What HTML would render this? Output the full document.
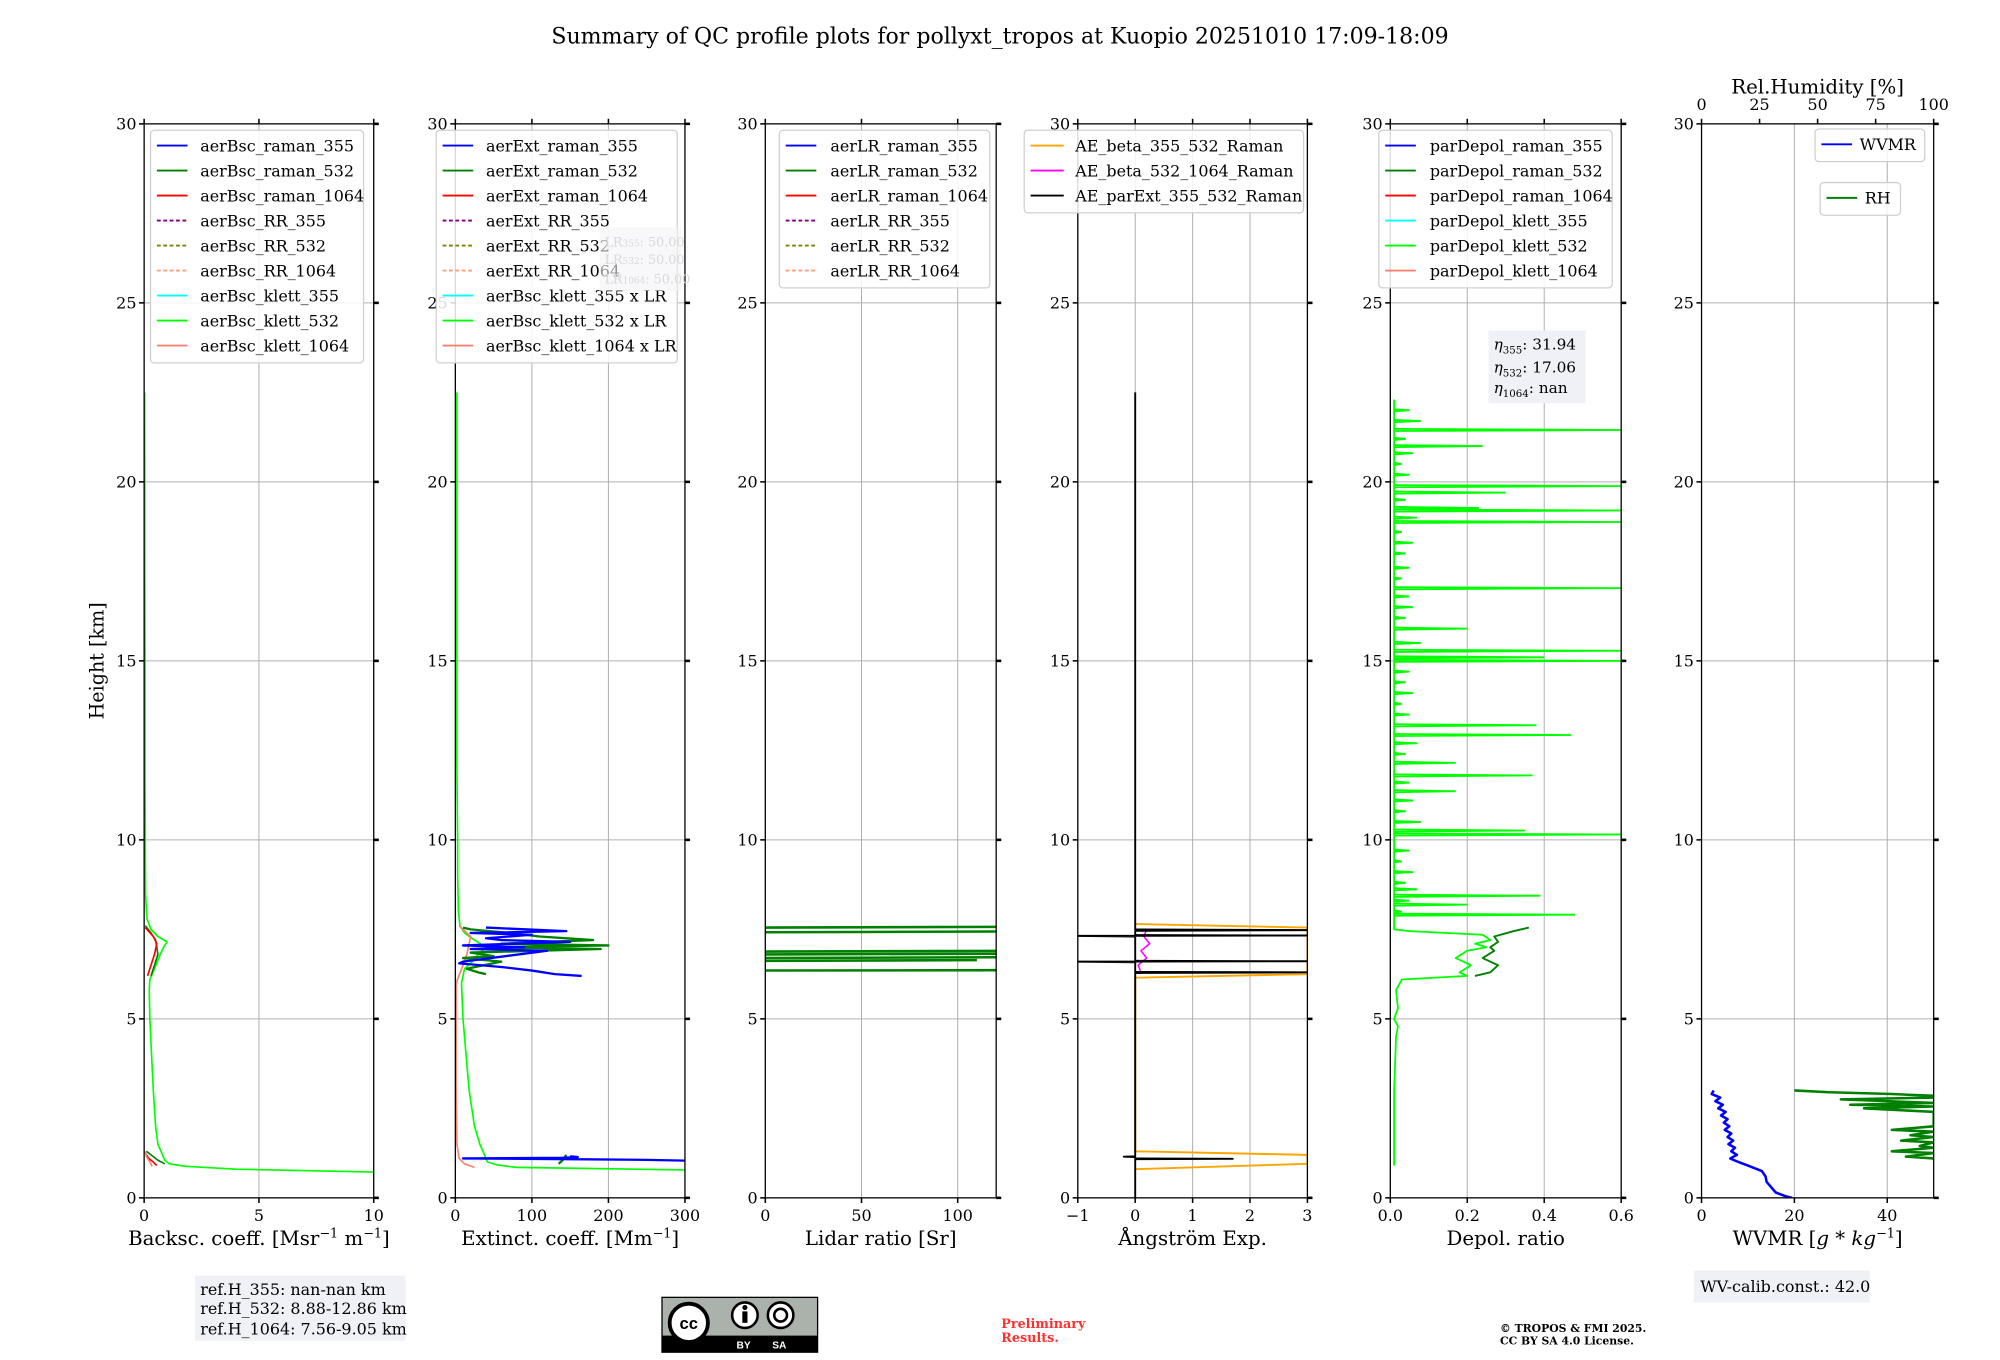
<!DOCTYPE html>
<html><head><meta charset="utf-8"><style>
html,body{margin:0;padding:0;background:#fff;}
svg{display:block;font-family:"DejaVu Serif","Liberation Serif",serif;}
</style></head><body>
<svg id="fig" width="2000" height="1360" viewBox="0 0 1568 1066" xmlns="http://www.w3.org/2000/svg">
<rect width="1568" height="1066" fill="#fff"/>
<text x="784" y="34" font-size="17.3" text-anchor="middle">Summary of QC profile plots for pollyxt_tropos at Kuopio 20251010 17:09-18:09</text>
<text transform="translate(81,518) rotate(-90)" font-size="15" text-anchor="middle">Height [km]</text>
<g id="panels"></g>
<g>
<rect x="153" y="1000" width="165" height="51" fill="#f0f1f6"/>
<text x="157" y="1015" font-size="12.5">ref.H_355: nan-nan km</text>
<text x="157" y="1030" font-size="12.5">ref.H_532: 8.88-12.86 km</text>
<text x="157" y="1046" font-size="12.5">ref.H_1064: 7.56-9.05 km</text>
</g>
<g>
<rect x="1328" y="996" width="138" height="25" fill="#f0f1f6"/>
<text x="1333" y="1013" font-size="12.5">WV-calib.const.: 42.0</text>
</g>
<g>
<rect x="1167" y="259" width="76" height="57" fill="#f0f1f6"/>
<text x="1171" y="274" font-size="12"><tspan font-style="italic">η</tspan><tspan font-size="8" dy="3">355</tspan><tspan dy="-3">: 31.94</tspan></text>
<text x="1171" y="292" font-size="12"><tspan font-style="italic">η</tspan><tspan font-size="8" dy="3">532</tspan><tspan dy="-3">: 17.06</tspan></text>
<text x="1171" y="308" font-size="12"><tspan font-style="italic">η</tspan><tspan font-size="8" dy="3">1064</tspan><tspan dy="-3">: nan</tspan></text>
</g>
<g fill="#d8d8d8">
<rect x="470" y="178" width="64" height="50" fill="#f4f4f6" opacity="0.6"/>
<text x="474" y="193" font-size="10">LR<tspan font-size="7">355</tspan>: 50.00</text>
<text x="474" y="207" font-size="10">LR<tspan font-size="7">532</tspan>: 50.00</text>
<text x="474" y="222" font-size="10">LR<tspan font-size="7">1064</tspan>: 50.00</text>
</g>
<g>
<rect x="519" y="1017" width="122" height="43" fill="#aab2ab" stroke="#000" stroke-width="1"/>
<rect x="519" y="1047" width="122" height="13" fill="#000"/>
<circle cx="540" cy="1037" r="15" fill="#fff" stroke="#000" stroke-width="3"/>
<text x="540" y="1042" font-size="13" font-weight="bold" text-anchor="middle" font-family="Liberation Sans,sans-serif">cc</text>
<circle cx="584" cy="1031" r="10" fill="#fff" stroke="#000" stroke-width="2"/>
<circle cx="584" cy="1025" r="2" fill="#000"/><rect x="582" y="1028" width="4" height="9" fill="#000"/>
<circle cx="612" cy="1031" r="10" fill="#fff" stroke="#000" stroke-width="2"/>
<circle cx="612" cy="1031" r="5" fill="none" stroke="#000" stroke-width="2"/>
<text x="583" y="1057" font-size="8" fill="#fff" text-anchor="middle" font-family="Liberation Sans,sans-serif" font-weight="bold">BY</text>
<text x="611" y="1057" font-size="8" fill="#fff" text-anchor="middle" font-family="Liberation Sans,sans-serif" font-weight="bold">SA</text>
</g>
<text x="785" y="1041" font-size="10" fill="#ff3030" font-weight="bold">Preliminary</text>
<text x="785" y="1052" font-size="10" fill="#ff3030" font-weight="bold">Results.</text>
<text x="1176" y="1044" font-size="8.5" font-weight="bold">© TROPOS &amp; FMI 2025.</text>
<text x="1176" y="1054" font-size="8.5" font-weight="bold">CC BY SA 4.0 License.</text>
</svg>
<script>
// ---------- data ----------
const heightTicks=[0,5,10,15,20,25,30];
// panel 1 backscatter
const bscKlett532H=[0.72,0.8,0.88,0.95,1.05,1.5,2,3,4,5,5.8,6.1,6.4,6.8,7.0,7.15,7.3,7.5,7.8,8.5,10,12,15,18,20,22.5];
const bscKlett532V=[10,4,1.8,1.1,0.9,0.6,0.5,0.4,0.32,0.25,0.22,0.25,0.45,0.7,0.85,1.0,0.6,0.3,0.12,0.06,0.05,0.04,0.04,0.03,0.03,0.02];
const bscRaman532H=[0.95,1.05,1.2,1.3];
const bscRaman532V=[0.9,0.6,0.3,0.1];
const bscRaman532UpH=[6.2,6.5,6.8,7.0,7.2,7.4,7.6];
const bscRaman532UpV=[0.3,0.45,0.6,0.55,0.5,0.3,0.05];
const bscRaman1064H=[0.9,1.0,1.1,1.25];
const bscRaman1064V=[0.55,0.4,0.2,0.05];
const bscRaman1064UpH=[6.2,6.5,6.8,7.1,7.3,7.55];
const bscRaman1064UpV=[0.15,0.3,0.45,0.55,0.4,0.05];
const bscKlett1064H=[0.88,1.0,1.15,1.3];
const bscKlett1064V=[0.35,0.25,0.1,0.05];
// panel 2 extinction
const extKlett532H=[0.78,0.85,0.92,1.0,1.2,1.5,2,3,4,5,6,6.4,6.6,6.8,7.0,7.2,7.4,7.6,8,9,10,12,15,18,22.5];
const extKlett532V=[300,80,55,42,38,32,25,18,14,10,8,12,22,30,40,25,12,6,4,3,3,2,2,2,2];
const extRaman355LowH=[1.04,1.06,1.08,1.1,1.12,1.14,1.16];
const extRaman355LowV=[300,250,150,10,140,160,150];
const extRaman355UpH=[6.2,6.25,6.35,6.45,6.55,6.6,6.9,6.95,7.0,7.05,7.15,7.2,7.25,7.35,7.4,7.45,7.55];
const extRaman355UpV=[165,130,100,60,5,10,120,20,90,10,150,60,40,100,20,145,40];
const extRaman532LowH=[0.95,1.05,1.2];
const extRaman532LowV=[135,140,145];
const extRaman532UpH=[6.25,6.3,6.4,6.6,6.7,6.75,6.85,6.95,7.0,7.05,7.1,7.2,7.3,7.4,7.5,7.55];
const extRaman532UpV=[40,30,15,60,10,50,20,190,40,200,60,180,110,70,20,10];
const extKlett1064H=[0.85,0.95,1.1,1.5,3,6,6.5,6.8,7.3,7.6];
const extKlett1064V=[25,12,5,2,1,1,10,15,20,5];
// panel 3 lidar ratio (segment pairs)
const lrH=[6.35,6.36,6.62,6.64,6.7,6.72,6.8,6.82,6.88,6.9,7.42,7.44,7.55,7.57];
const lrV=[0,120,0,110,0,120,0,120,0,120,0,120,0,120];
// panel 4 Angstrom (ordered by height; spikes via near-equal heights)
const aeParExtH=[0,1.08,1.09,1.1,1.14,1.15,1.16,6.28,6.3,6.31,6.58,6.6,6.61,6.62,7.3,7.32,7.33,7.34,7.46,7.48,7.5,22.5];
const aeParExtV=[0,0,1.7,0,0,-0.2,0,0,3,0,0,-1,3,0,0,-1,3,0,0,3,0,0];
const aeBeta355H=[0.8,0.95,1.2,1.3,6.15,6.25,7.55,7.65];
const aeBeta355V=[0,3,3,0,0,3,3,0];
const aeBeta532H=[6.3,6.5,6.7,6.9,7.1,7.3,7.5];
const aeBeta532V=[0.1,0.05,0.2,0.1,0.25,0.15,0.2];
// panel 5 depol: base profile + spikes
const dpBaseH=[0.9,1.5,3,4.5,4.8,5,5.3,5.8,6.1,6.2,6.3,6.5,6.7,6.9,7.0,7.1,7.2,7.35,7.45,7.5,8,9,10,12,14,16,18,20,22.3];
const dpBaseV=[0.01,0.01,0.01,0.015,0.02,0.01,0.02,0.015,0.03,0.2,0.18,0.21,0.17,0.2,0.25,0.22,0.26,0.24,0.05,0.01,0.01,0.01,0.01,0.01,0.01,0.01,0.01,0.01,0.01];
const dpSpikeH=[7.91,8.19,8.44,8.62,10.15,10.26,11.36,11.8,12.15,12.93,13.2,15.0,15.1,15.28,15.9,17.03,18.88,19.2,19.27,19.7,19.88,21.0,21.45,
 8.0,8.3,8.8,9.1,9.4,9.7,10.5,10.8,11.1,11.6,12.4,12.7,13.5,13.8,14.1,14.4,14.7,15.5,16.2,16.5,16.8,17.3,17.6,18.0,18.3,18.6,19.0,19.5,20.2,20.5,20.8,21.2,21.7,22.0];
const dpSpikeV=[0.48,0.2,0.39,0.07,0.6,0.35,0.17,0.37,0.17,0.47,0.38,0.6,0.4,0.6,0.2,0.6,0.6,0.6,0.23,0.3,0.6,0.24,0.6,
 0.03,0.05,0.04,0.06,0.03,0.05,0.08,0.04,0.06,0.05,0.04,0.07,0.05,0.03,0.06,0.04,0.05,0.08,0.04,0.06,0.05,0.03,0.05,0.04,0.06,0.03,0.07,0.04,0.05,0.03,0.06,0.04,0.08,0.05];
const dpRaman532H=[6.2,6.3,6.5,6.7,6.9,7.0,7.15,7.3,7.45,7.55];
const dpRaman532V=[0.22,0.26,0.28,0.24,0.27,0.26,0.28,0.27,0.32,0.36];
// panel 6 WV
const wvmrH=[0,0.05,0.15,0.3,0.45,0.6,0.75,0.9,1.0,1.05,1.1,1.2,1.3,1.4,1.5,1.6,1.7,1.8,1.9,2.0,2.1,2.2,2.3,2.4,2.5,2.6,2.7,2.8,2.9,3.0];
const wvmrV=[19.5,18,16,15,14,13.8,13,10,8,7,6.2,7.6,6.4,7.2,5.8,6.8,5.6,6.4,5.0,6.0,4.8,5.6,4.2,5.2,3.6,4.6,3.0,4.0,2.2,2.6];
const rhH=[1.1,1.15,1.25,1.3,1.4,1.45,1.55,1.6,1.7,1.75,1.85,1.9,2.0,2.1,2.2,2.4,2.5,2.55,2.6,2.65,2.75,2.8,2.85,2.9,2.95,3.0];
const rhV=[100,88,100,82,100,94,100,86,100,90,100,82,100,100,100,100,70,100,64,100,60,100,100,82,55,40];

// ---------- layout ----------
const Y0=939,Y1=97,HMAX=30;
const yS=h=>Y0-(h/HMAX)*(Y0-Y1);
const panels=[
 {x0:113,x1:293,min:0,max:10,ticks:[0,5,10],tl:["0","5","10"],xlabel:'Backsc. coeff. [Msr<tspan dy="-6" font-size="10">−1</tspan><tspan dy="6"> m</tspan><tspan dy="-6" font-size="10">−1</tspan><tspan dy="6">]</tspan>',name:"backscatter"},
 {x0:357,x1:537,min:0,max:300,ticks:[0,100,200,300],tl:["0","100","200","300"],xlabel:'Extinct. coeff. [Mm<tspan dy="-6" font-size="10">−1</tspan><tspan dy="6">]</tspan>',name:"extinction"},
 {x0:600,x1:781,min:0,max:120,ticks:[0,50,100],tl:["0","50","100"],xlabel:'Lidar ratio [Sr]',name:"lidar-ratio"},
 {x0:845,x1:1025,min:-1,max:3,ticks:[-1,0,1,2,3],tl:["−1","0","1","2","3"],xlabel:'Ångström Exp.',name:"angstrom"},
 {x0:1090,x1:1271,min:0,max:0.6,ticks:[0,0.2,0.4,0.6],tl:["0.0","0.2","0.4","0.6"],xlabel:'Depol. ratio',name:"depol"},
 {x0:1334,x1:1516,min:0,max:50,ticks:[0,20,40],tl:["0","20","40"],xlabel:'WVMR [<tspan font-style="italic">g</tspan> * <tspan font-style="italic">kg</tspan><tspan dy="-6" font-size="10">−1</tspan><tspan dy="6">]</tspan>',name:"wvmr"}
];
const NS="http://www.w3.org/2000/svg";
const root=document.getElementById('panels');
function mk(tag,attrs,parent){const e=document.createElementNS(NS,tag);for(const k in attrs)e.setAttribute(k,attrs[k]);(parent||root).appendChild(e);return e;}
function xS(p,v){return p.x0+(v-p.min)/(p.max-p.min)*(p.x1-p.x0);}
panels.forEach((p,i)=>{
 const g=mk('g',{});
 
 
 const cp=mk('clipPath',{id:'cp'+i},g);mk('rect',{x:p.x0,y:Y1,width:p.x1-p.x0,height:Y0-Y1},cp);
 p.ticks.forEach(t=>{const x=xS(p,t);mk('line',{x1:x,x2:x,y1:Y1,y2:Y0,stroke:'#b0b0b0','stroke-width':0.8},g);});
 heightTicks.forEach(h=>{const y=yS(h);mk('line',{x1:p.x0,x2:p.x1,y1:y,y2:y,stroke:'#b0b0b0','stroke-width':0.8},g);});
 p.g=mk('g',{'clip-path':'url(#cp'+i+')'},g);p.root=g;
});
function drawLine(pi,H,V,color,w,name,xfun){
 const p=panels[pi];
 const pts=H.map((h,k)=>(xfun?xfun(V[k]):xS(p,V[k])).toFixed(1)+','+yS(h).toFixed(1)).join(' ');
 const e=mk('polyline',{points:pts,fill:'none',stroke:color,'stroke-width':w,'stroke-linejoin':'round'},p.g);
 
 
}
function drawSegs(pi,H,V,color,w,name){
 const p=panels[pi];const g=mk('g',{},p.g);
 
 
 for(let k=0;k<H.length;k+=2){mk('line',{x1:xS(p,V[k]),y1:yS(H[k]),x2:xS(p,V[k+1]),y2:yS(H[k+1]),stroke:color,'stroke-width':w},g);}
}
function drawSpikes(pi,H,V,base,color,w,name){
 const p=panels[pi];const g=mk('g',{},p.g);
 
 
 H.forEach((h,k)=>{const pts=[[base,h-0.03],[V[k],h],[base,h+0.03]].map(q=>xS(p,q[0]).toFixed(1)+','+yS(q[1]).toFixed(1)).join(' ');
  mk('polyline',{points:pts,fill:'none',stroke:color,'stroke-width':w},g);});
}
drawLine(0,bscKlett532H,bscKlett532V,'#00ff00',1.3,'aerBsc-klett-532-line');
drawLine(0,bscRaman532H,bscRaman532V,'#008000',1.3,'aerBsc-raman-532-line');
drawLine(0,bscRaman532UpH,bscRaman532UpV,'#008000',1.3,'aerBsc-raman-532-upper-line');
drawLine(0,bscRaman1064H,bscRaman1064V,'#ff0000',1.3,'aerBsc-raman-1064-line');
drawLine(0,bscRaman1064UpH,bscRaman1064UpV,'#ff0000',1.3,'aerBsc-raman-1064-upper-line');
drawLine(0,bscKlett1064H,bscKlett1064V,'#fa8072',1.3,'aerBsc-klett-1064-line');
drawLine(1,extKlett532H,extKlett532V,'#00ff00',1.3,'aerExt-klett-532-line');
drawLine(1,extKlett1064H,extKlett1064V,'#fa8072',1.3,'aerExt-klett-1064-line');
drawLine(1,extRaman532LowH,extRaman532LowV,'#008000',1.8,'aerExt-raman-532-line');
drawLine(1,extRaman532UpH,extRaman532UpV,'#008000',1.8,'aerExt-raman-532-upper-line');
drawLine(1,extRaman355LowH,extRaman355LowV,'#0000ff',1.8,'aerExt-raman-355-line');
drawLine(1,extRaman355UpH,extRaman355UpV,'#0000ff',1.8,'aerExt-raman-355-upper-line');
drawSegs(2,lrH,lrV,'#008000',2,'aerLR-raman-532-lines');
drawLine(3,aeBeta355H,aeBeta355V,'#ffa500',1.5,'AE-beta-355-532-line');
drawLine(3,aeBeta532H,aeBeta532V,'#ff00ff',1.2,'AE-beta-532-1064-line');
drawLine(3,aeParExtH,aeParExtV,'#000000',1.5,'AE-parExt-355-532-line');
drawLine(4,dpBaseH,dpBaseV,'#00ff00',1.4,'parDepol-klett-532-line');
drawSpikes(4,dpSpikeH,dpSpikeV,0.01,'#00ff00',1.4,'parDepol-klett-532-spikes');
drawLine(4,dpRaman532H,dpRaman532V,'#008000',1.5,'parDepol-raman-532-line');
drawLine(5,wvmrH,wvmrV,'#0000ff',2,'wvmr-line');
const p6=panels[5];
drawLine(5,rhH,rhV,'#008000',2,'rh-line',v=>p6.x0+v/100*(p6.x1-p6.x0));

panels.forEach((p,i)=>{
 const g=p.root;
 const ax=mk('g',{},g);
 
 
 mk('rect',{x:p.x0,y:Y1,width:p.x1-p.x0,height:Y0-Y1,fill:'none',stroke:'#000','stroke-width':1},ax);
 heightTicks.forEach(h=>{const y=yS(h);
  mk('line',{x1:p.x0-4,x2:p.x0,y1:y,y2:y,stroke:'#000','stroke-width':1.2},ax);
  mk('line',{x1:p.x1,x2:p.x1+4,y1:y,y2:y,stroke:'#000','stroke-width':2},ax);
  const t=mk('text',{x:p.x0-6,y:y+4.5,'font-size':12.5,'text-anchor':'end'},ax);t.textContent=h;});
 p.ticks.forEach((t,k)=>{const x=xS(p,t);
  mk('line',{x1:x,x2:x,y1:Y0,y2:Y0+4,stroke:'#000','stroke-width':1.2},ax);
  if(i<5) mk('line',{x1:x,x2:x,y1:Y1-4,y2:Y1,stroke:'#000','stroke-width':1.2},ax);
  const tx=mk('text',{x:x,y:Y0+18,'font-size':12.5,'text-anchor':'middle'},ax);tx.textContent=p.tl[k];});
 const xl=mk('text',{x:(p.x0+p.x1)/2,y:976,'font-size':15.5,'text-anchor':'middle'},g);
 xl.innerHTML=p.xlabel;
 
 
});
const rhTicks=[0,25,50,75,100];
rhTicks.forEach(t=>{const x=p6.x0+t/100*(p6.x1-p6.x0);
 mk('line',{x1:x,x2:x,y1:Y1-4,y2:Y1,stroke:'#000','stroke-width':1.2});
 const tx=mk('text',{x:x,y:86,'font-size':12.5,'text-anchor':'middle'});tx.textContent=t;});
const rht=mk('text',{x:1425,y:73,'font-size':15.5,'text-anchor':'middle'});
rht.textContent='Rel.Humidity [%]';



function legend(name,x,y,w,entries,lineLen,textOff){
 const g=mk('g',{});
 
 
 const h=entries.length*19.6+6;
 mk('rect',{x:x,y:y,width:w,height:h,rx:3,fill:'#fff','fill-opacity':0.85,stroke:'#d0d0d0','stroke-width':1},g);
 entries.forEach((e,k)=>{const yy=y+12+k*19.6;
  const le=mk('g',{},g);
  
  
  mk('line',{x1:x+5,x2:x+5+lineLen,y1:yy,y2:yy,stroke:e[1],'stroke-width':1.5,'stroke-dasharray':e[2]?'3,2':'none'},le);
  const t=mk('text',{x:x+textOff,y:yy+4.5,'font-size':12.5},le);t.textContent=e[0];});
}
legend('backscatter-legend',118,102,167,[['aerBsc_raman_355','#0000ff'],['aerBsc_raman_532','#008000'],['aerBsc_raman_1064','#ff0000'],['aerBsc_RR_355','#800080',1],['aerBsc_RR_532','#808000',1],['aerBsc_RR_1064','#ffa07a',1],['aerBsc_klett_355','#00ffff'],['aerBsc_klett_532','#00ff00'],['aerBsc_klett_1064','#fa8072']],24,39);
legend('extinction-legend',342,102,189,[['aerExt_raman_355','#0000ff'],['aerExt_raman_532','#008000'],['aerExt_raman_1064','#ff0000'],['aerExt_RR_355','#800080',1],['aerExt_RR_532','#808000',1],['aerExt_RR_1064','#ffa07a',1],['aerBsc_klett_355 x LR','#00ffff'],['aerBsc_klett_532 x LR','#00ff00'],['aerBsc_klett_1064 x LR','#fa8072']],24,39);
legend('lidar-ratio-legend',611,102,165,[['aerLR_raman_355','#0000ff'],['aerLR_raman_532','#008000'],['aerLR_raman_1064','#ff0000'],['aerLR_RR_355','#800080',1],['aerLR_RR_532','#808000',1],['aerLR_RR_1064','#ffa07a',1]],24,40);
legend('angstrom-legend',803,102,219,[['AE_beta_355_532_Raman','#ffa500'],['AE_beta_532_1064_Raman','#ff00ff'],['AE_parExt_355_532_Raman','#000000']],26,40);
legend('depol-legend',1081,102,183,[['parDepol_raman_355','#0000ff'],['parDepol_raman_532','#008000'],['parDepol_raman_1064','#ff0000'],['parDepol_klett_355','#00ffff'],['parDepol_klett_532','#00ff00'],['parDepol_klett_1064','#fa8072']],24,40);
legend('wvmr-legend',1423,101,86,[['WVMR','#0000ff']],24,35);
legend('rh-legend',1427,143,63,[['RH','#008000']],24,35);
</script>
</body></html>
